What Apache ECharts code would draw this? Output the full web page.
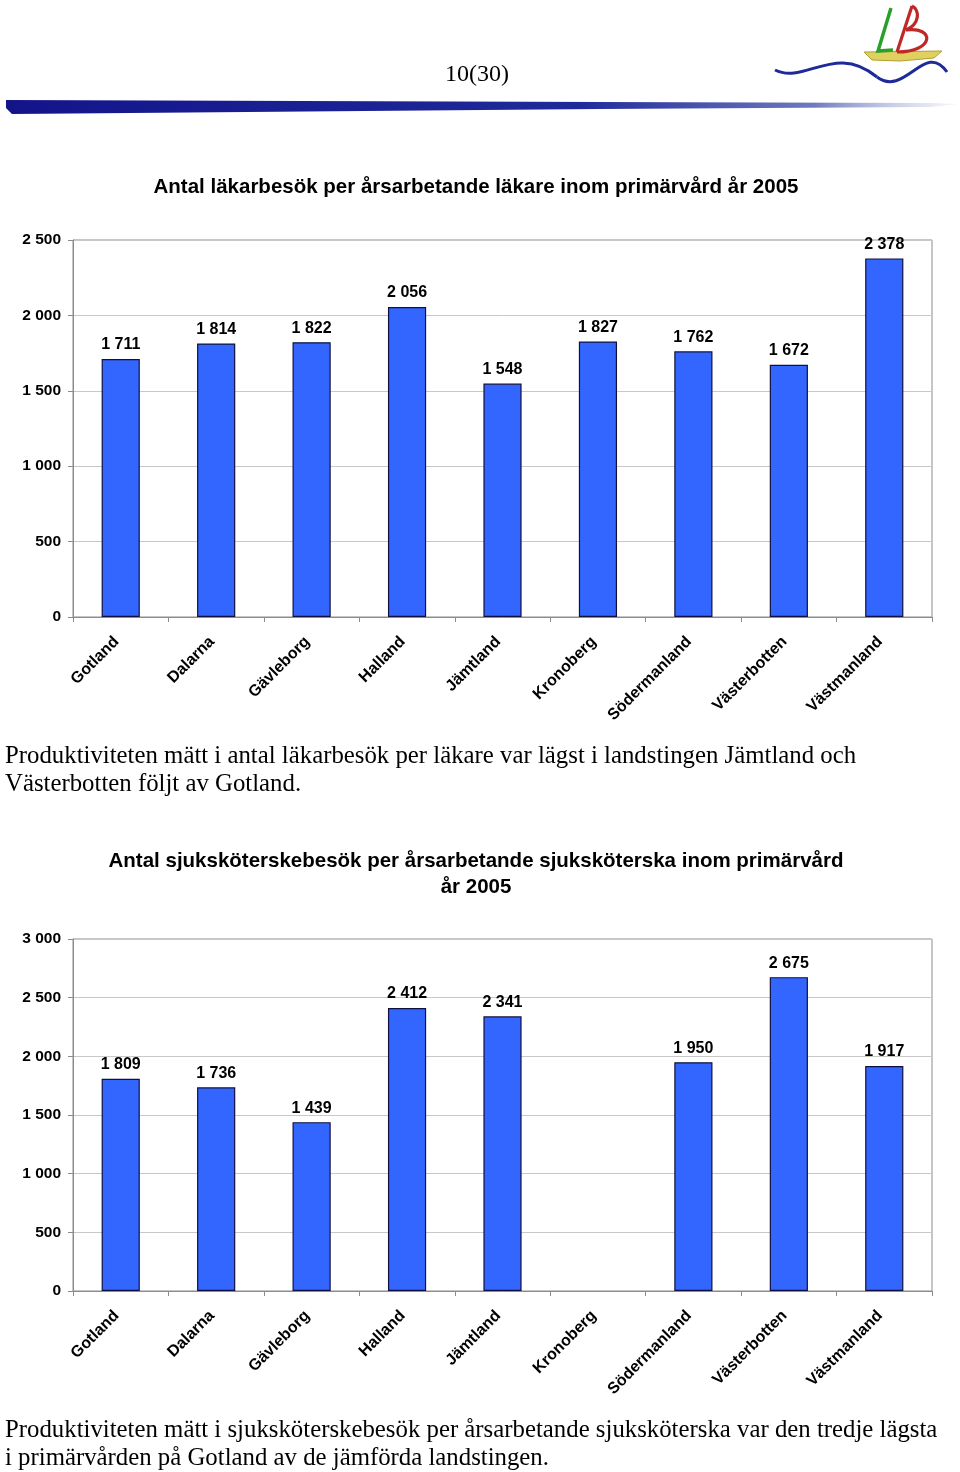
<!DOCTYPE html>
<html>
<head>
<meta charset="utf-8">
<script src="https://cdn.jsdelivr.net/npm/echarts@6/dist/echarts.min.js"></script>
<style>
html,body{margin:0;padding:0;background:#fff;}
#c{width:960px;height:1472px;}
</style>
</head>
<body>
<div id="c"></div>
<script>
const categories = ['Gotland','Dalarna','Gävleborg','Halland','Jämtland','Kronoberg','Södermanland','Västerbotten','Västmanland'];
const lakarbesok = [1711, 1814, 1822, 2056, 1548, 1827, 1762, 1672, 2378];
const sjukskoterskebesok = [1809, 1736, 1439, 2412, 2341, null, 1950, 2675, 1917];
const title1 = 'Antal läkarbesök per årsarbetande läkare inom primärvård år 2005';
const title2 = 'Antal sjuksköterskebesök per årsarbetande sjuksköterska inom primärvård\når 2005';
const pageLabel = '10(30)';
const text1 = ['Produktiviteten mätt i antal läkarbesök per läkare var lägst i landstingen Jämtland och', 'Västerbotten följt av Gotland.'];
const text2 = ['Produktiviteten mätt i sjuksköterskebesök per årsarbetande sjuksköterska var den tredje lägsta', 'i primärvården på Gotland av de jämförda landstingen.'];

const fmt = v => (v == null ? '' : String(v).replace(/\B(?=(\d{3})+(?!\d))/g, ' '));
const AX = '#8c8c8c';
const sans = 'Liberation Sans, Arial, sans-serif';
const boldFont = {fontFamily: sans, fontWeight: 'bold', fontSize: 15.5, color: '#000'};

function xAxis(gi) {
  return {
    type: 'category', gridIndex: gi, data: categories, boundaryGap: true,
    axisLine: {lineStyle: {color: AX, width: 1}},
    axisTick: {show: true, length: 5, lineStyle: {color: AX}},
    axisLabel: Object.assign({rotate: 45, margin: 18, interval: 0, padding: [0, 6, 0, 0]}, boldFont, {fontSize: 16})
  };
}
function yAxis(gi, max, interval) {
  return {
    type: 'value', gridIndex: gi, min: 0, max: max, interval: interval,
    axisLine: {show: true, lineStyle: {color: AX, width: 1}},
    axisTick: {show: true, length: 5, lineStyle: {color: AX}},
    splitLine: {lineStyle: {color: '#c8c8c8', width: 1}},
    axisLabel: Object.assign({margin: 12, formatter: fmt}, boldFont)
  };
}
function barSeries(gi, data) {
  return {
    type: 'bar', xAxisIndex: gi, yAxisIndex: gi, data: data,
    barCategoryGap: '60%',
    itemStyle: {color: '#3366ff', borderColor: '#101040', borderWidth: 1.2},
    label: Object.assign({show: true, position: 'top', distance: 6, formatter: p => fmt(p.value)}, boldFont, {fontSize: 16}),
    silent: true
  };
}

const serif = 'Liberation Serif, Times New Roman, serif';
const red = '#c02828';
const graphics = [
  // header swoosh
  {type: 'polygon', shape: {points: [[6,100],[600,102],[930,103],[958,104],[930,107],[600,109],[12,114],[6,108]]},
   style: {fill: new echarts.graphic.LinearGradient(0,0,1,0,[{offset:0,color:'#14148a'},{offset:0.6,color:'#1f2a9a'},{offset:0.85,color:'#6f7ac0'},{offset:1,color:'rgba(200,205,230,0.2)'}])}},
  {type: 'text', x: 477, y: 75, style: {text: pageLabel, font: '24px ' + serif, fill: '#000', align: 'center', verticalAlign: 'middle'}},
  // logo: wave
  {type: 'bezierCurve', shape: {x1: 775, y1: 70, x2: 877, y2: 77, cpx1: 805, cpy1: 85, cpx2: 835, cpy2: 42}, style: {stroke: '#1f2a9a', lineWidth: 3, fill: 'none'}},
  {type: 'bezierCurve', shape: {x1: 877, y1: 77, x2: 947, y2: 72, cpx1: 905, cpy1: 98, cpx2: 925, cpy2: 40}, style: {stroke: '#1f2a9a', lineWidth: 3, fill: 'none'}},
  // boat hull
  {type: 'polygon', shape: {points: [[864,52],[942,51],[934,58],[900,61],[872,60]]}, style: {fill: '#e0d060', stroke: '#b0a030', lineWidth: 1}},
  // L
  {type: 'polyline', shape: {points: [[891,8],[878,51],[893,50]]}, style: {stroke: '#2aa02a', lineWidth: 3.5, fill: 'none'}},
  // B
  {type: 'line', shape: {x1: 912, y1: 6, x2: 897, y2: 52}, style: {stroke: red, lineWidth: 3.2}},
  {type: 'bezierCurve', shape: {x1: 897, y1: 52, x2: 906, y2: 30, cpx1: 935, cpy1: 52, cpx2: 935, cpy2: 26}, style: {stroke: red, lineWidth: 3.2, fill: 'none'}},
  {type: 'bezierCurve', shape: {x1: 906, y1: 30, x2: 912, y2: 6, cpx1: 920, cpy1: 24, cpx2: 920, cpy2: 10}, style: {stroke: red, lineWidth: 3.2, fill: 'none'}},
  // paragraphs
  {type: 'text', x: 5, y: 770, style: {text: text1.join('\n'), font: '24.8px ' + serif, lineHeight: 28, fill: '#000', verticalAlign: 'middle'}},
  {type: 'text', x: 5, y: 1444, style: {text: text2.join('\n'), font: '24.8px ' + serif, lineHeight: 28, fill: '#000', verticalAlign: 'middle'}},
  // chart titles
  {type: 'text', x: 476, y: 187, style: {text: title1, font: 'bold 20.5px ' + sans, fill: '#000', align: 'center', verticalAlign: 'middle'}},
  {type: 'text', x: 476, y: 874, style: {text: title2, font: 'bold 20.5px ' + sans, lineHeight: 26, fill: '#000', align: 'center', verticalAlign: 'middle'}}
];

const chart = echarts.init(document.getElementById('c'), null, {renderer: 'canvas', width: 960, height: 1472});
chart.setOption({
  animation: false,
  backgroundColor: '#fff',
  grid: [
    {left: 73, right: 28, top: 240, height: 377, show: true, borderColor: AX, borderWidth: 1, backgroundColor: 'transparent'},
    {left: 73, right: 28, top: 939, height: 352, show: true, borderColor: AX, borderWidth: 1, backgroundColor: 'transparent'}
  ],
  xAxis: [xAxis(0), xAxis(1)],
  yAxis: [yAxis(0, 2500, 500), yAxis(1, 3000, 500)],
  series: [barSeries(0, lakarbesok), barSeries(1, sjukskoterskebesok)],
  graphic: graphics
});
</script>
</body>
</html>
